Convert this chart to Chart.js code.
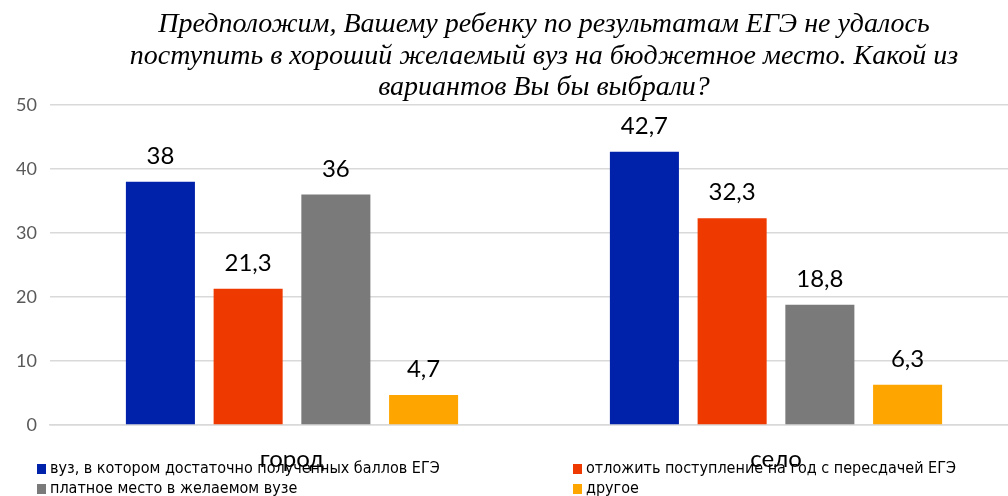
<!DOCTYPE html>
<html>
<head>
<meta charset="utf-8">
<script src="https://cdn.jsdelivr.net/npm/chart.js@4"></script>
<style>
  html, body { margin: 0; padding: 0; background: #fff; overflow: hidden; }
  #wrap { width: 1030px; height: 496px; }
</style>
</head>
<body>
<div id="wrap"><canvas id="chart" width="1030" height="496"></canvas></div>
<script>
// Chart data
const categories = ['город', 'село'];
const seriesNames = [
    'вуз, в котором достаточно полученных баллов ЕГЭ',
    'отложить поступление на год с пересдачей ЕГЭ',
    'платное место в желаемом вузе',
    'другое'
];
const enoughPoints = [38, 42.7];
const postpone = [21.3, 32.3];
const paidPlace = [36, 18.8];
const other = [4.7, 6.3];
const yTicks = [0, 10, 20, 30, 40, 50];
const titleLines = [
    'Предположим, Вашему ребенку по результатам ЕГЭ не удалось',
    'поступить в хороший желаемый вуз на бюджетное место. Какой из',
    'вариантов Вы бы выбрали?'
];
const colors = ['#0022AA', '#EE3A00', '#7A7A7A', '#FFA500'];

const sansFont = "Lato, 'Open Sans', sans-serif";
const narrowFont = "'Liberation Sans Narrow', 'DejaVu Sans Condensed', sans-serif";

// Title drawn in the top padding
const titlePlugin = {
    id: 'titleLines',
    afterDraw(chart) {
        const ctx = chart.ctx;
        ctx.save();
        ctx.fillStyle = '#000';
        ctx.font = "italic 28px 'Liberation Serif', 'DejaVu Serif', serif";
        ctx.textAlign = 'center';
        ctx.textBaseline = 'alphabetic';
        const baselines = [32, 64, 95];
        titleLines.forEach((line, i) => ctx.fillText(line, 544, baselines[i]));
        ctx.restore();
    }
};

// Value labels above the bars
const valueLabels = {
    id: 'valueLabels',
    afterDatasetsDraw(chart) {
        const ctx = chart.ctx;
        ctx.save();
        ctx.fillStyle = '#000';
        ctx.font = '24px ' + sansFont;
        ctx.textAlign = 'center';
        ctx.textBaseline = 'alphabetic';
        chart.data.datasets.forEach((ds, i) => {
            chart.getDatasetMeta(i).data.forEach((bar, j) => {
                const txt = String(ds.data[j]).replace('.', ',');
                ctx.fillText(txt, bar.x, bar.y - 18);
            });
        });
        ctx.restore();
    }
};

// Two-column legend at the bottom
const legendPlugin = {
    id: 'bottomLegend',
    beforeDraw(chart) {
        const ctx = chart.ctx;
        ctx.save();
        ctx.font = '16px ' + narrowFont;
        ctx.textBaseline = 'middle';
        const cols = [37, 573];
        const rows = [469, 489];
        chart.data.datasets.forEach((ds, i) => {
            const x = cols[i % 2];
            const y = rows[Math.floor(i / 2)];
            ctx.fillStyle = ds.backgroundColor;
            ctx.fillRect(x, y - 5, 9, 10);
            ctx.fillStyle = '#000';
            ctx.fillText(ds.label, x + 13, y);
        });
        ctx.restore();
    }
};

const datasets = [enoughPoints, postpone, paidPlace, other].map((vals, i) => ({
    label: seriesNames[i],
    data: vals,
    backgroundColor: colors[i],
    categoryPercentage: 0.725,
    barPercentage: 0.787
}));

new Chart(document.getElementById('chart'), {
    type: 'bar',
    data: { labels: categories, datasets: datasets },
    options: {
        responsive: false,
        animation: false,
        devicePixelRatio: 1,
        layout: { padding: { top: 105, right: 12, left: 0, bottom: 0 } },
        plugins: {
            legend: { display: false },
            title: { display: false },
            tooltip: { enabled: false }
        },
        scales: {
            x: {
                grid: { display: false, drawTicks: false },
                border: { display: true, color: '#d9d9d9', width: 1.5 },
                ticks: {
                    color: '#000',
                    font: { family: sansFont, size: 24 },
                    padding: 20
                },
                afterFit(scale) { scale.height = 71; }
            },
            y: {
                min: 0,
                max: 50,
                afterBuildTicks(scale) { scale.ticks = yTicks.map(v => ({ value: v })); },
                grid: { color: '#d9d9d9', lineWidth: 1.5, drawTicks: false },
                border: { display: false },
                ticks: {
                    color: '#595959',
                    font: { family: sansFont, size: 18 },
                    padding: 13
                },
                afterFit(scale) { scale.width = 50; }
            }
        }
    },
    plugins: [legendPlugin, valueLabels, titlePlugin]
});
</script>
</body>
</html>
